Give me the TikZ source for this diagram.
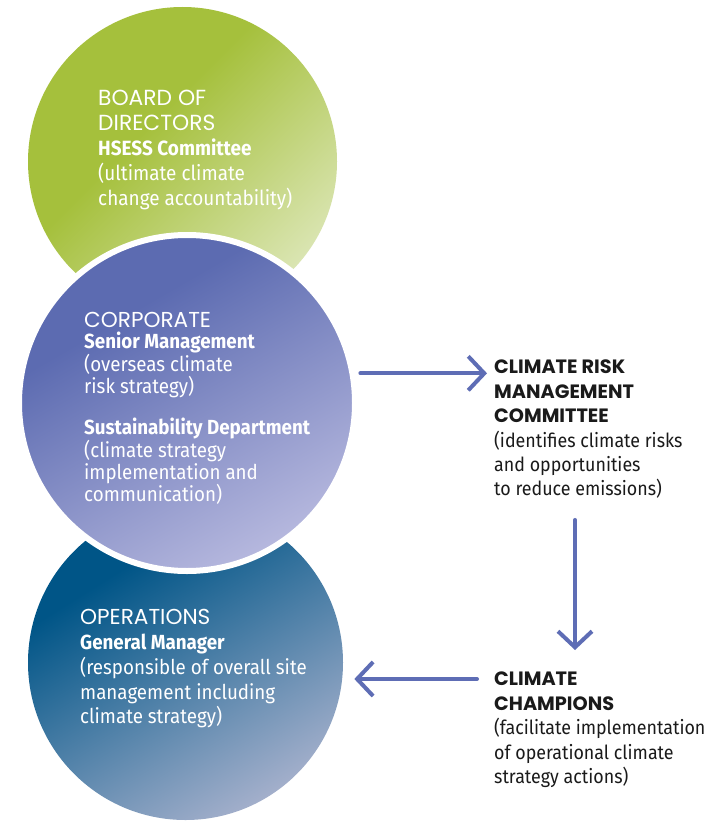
\documentclass[tikz,border=0pt]{standalone}
\usepackage{fontspec}
\setmainfont{Fira Sans}
\newfontfamily\capsfont[Scale=1.06]{Poppins}
\newfontfamily\narrowfont[FakeStretch=0.92]{Fira Sans}
\newcommand{\boxhead}{\capsfont\bfseries\fontsize{18.2}{24.4}\selectfont}
\usetikzlibrary{arrows.meta,positioning,calc}

\definecolor{leafdark}{HTML}{A5C03C}
\definecolor{leaflight}{HTML}{DAE5B2}
\definecolor{corpdark}{HTML}{5C6BB1}
\definecolor{corplight}{HTML}{B6B8DE}
\definecolor{opsdark}{HTML}{005587}
\definecolor{opslight}{HTML}{A3AFCB}
\definecolor{flowblue}{HTML}{5E6DB5}
\definecolor{inkblack}{HTML}{1A1A1A}

\pgfdeclarehorizontalshading{leaffade}{100bp}{color(0bp)=(leafdark); color(42bp)=(leafdark); color(75bp)=(leaflight); color(100bp)=(leaflight)}
\pgfdeclarehorizontalshading{corpfade}{100bp}{color(0bp)=(corpdark); color(34bp)=(corpdark); color(75bp)=(corplight); color(100bp)=(corplight)}
\pgfdeclarehorizontalshading{opsfade}{100bp}{color(0bp)=(opsdark); color(32bp)=(opsdark); color(75bp)=(opslight); color(100bp)=(opslight)}

\begin{document}
\begin{tikzpicture}[x=1pt, y=-1pt,
  tier/.style={circle, shade, shading angle=-45, minimum size=#1, inner sep=0pt},
  intext/.style={anchor=north west, inner sep=0pt, align=left, text=white},
  outtext/.style={anchor=north west, inner sep=0pt, align=left, text=inkblack},
  flow/.style={draw=flowblue, line width=4pt, line cap=round, -{Straight Barb[length=16pt,width=34pt]}}]

\fill[white] (0,0) rectangle (727,824);
\useasboundingbox (0,0) rectangle (727,824);

\node[tier=309pt, shading=leaffade] (board) at (182.5,161.5) {};
\node[tier=315pt, shading=opsfade, shading angle=-58] (ops) at (185.5,662.5) {};
\node[tier=336pt, shading=corpfade, shading angle=-60, draw=white, line width=6pt] (corp) at (187,403) {};

\node[intext, font=\narrowfont\fontsize{20.6}{25}\selectfont] (boardtxt) at (98,90)
  {{\capsfont BOARD OF}\\ {\capsfont DIRECTORS}\\ \textbf{HSESS Committee}\\ (ultimate climate\\ change accountability)};

\node[intext, font=\narrowfont\fontsize{20.4}{21.5}\selectfont] (corptxt) at (84,312)
  {{\capsfont CORPORATE}\\ \textbf{Senior Management}\\ (overseas climate\\ risk strategy)\\[20pt]
   \textbf{Sustainability Department}\\ (climate strategy\\ implementation and\\ communication)};

\node[intext, font=\narrowfont\fontsize{20.4}{24.7}\selectfont] (opstxt) at (80,609.5)
  {{\capsfont OPERATIONS}\\ \textbf{General Manager}\\ (responsible of overall site\\ management including\\ climate strategy)};

\node[outtext, font=\narrowfont\fontsize{19.4}{24.4}\selectfont] (crm) at (494,360)
  {{\boxhead CLIMATE RISK}\\ {\boxhead MANAGEMENT}\\ {\boxhead COMMITTEE}\\
   (identifies climate risks\\ and opportunities\\ to reduce emissions)};

\node[outtext, font=\narrowfont\fontsize{19.4}{24.4}\selectfont] (champ) at (494,672)
  {{\boxhead CLIMATE}\\ {\boxhead CHAMPIONS}\\ (facilitate implementation\\
   of operational climate\\ strategy actions)};

\draw[flow, shorten <=5pt, shorten >=7pt] (corp.10) -- (corp.10 -| crm.west);
\draw[flow, shorten <=21pt, shorten >=22pt] ([xshift=81pt]crm.south west) -- ([xshift=81pt]champ.north west);
\draw[flow, shorten <=17pt, shorten >=12pt] (champ.north west |- ops.-6) -- (ops.-6);
\end{tikzpicture}
\end{document}
